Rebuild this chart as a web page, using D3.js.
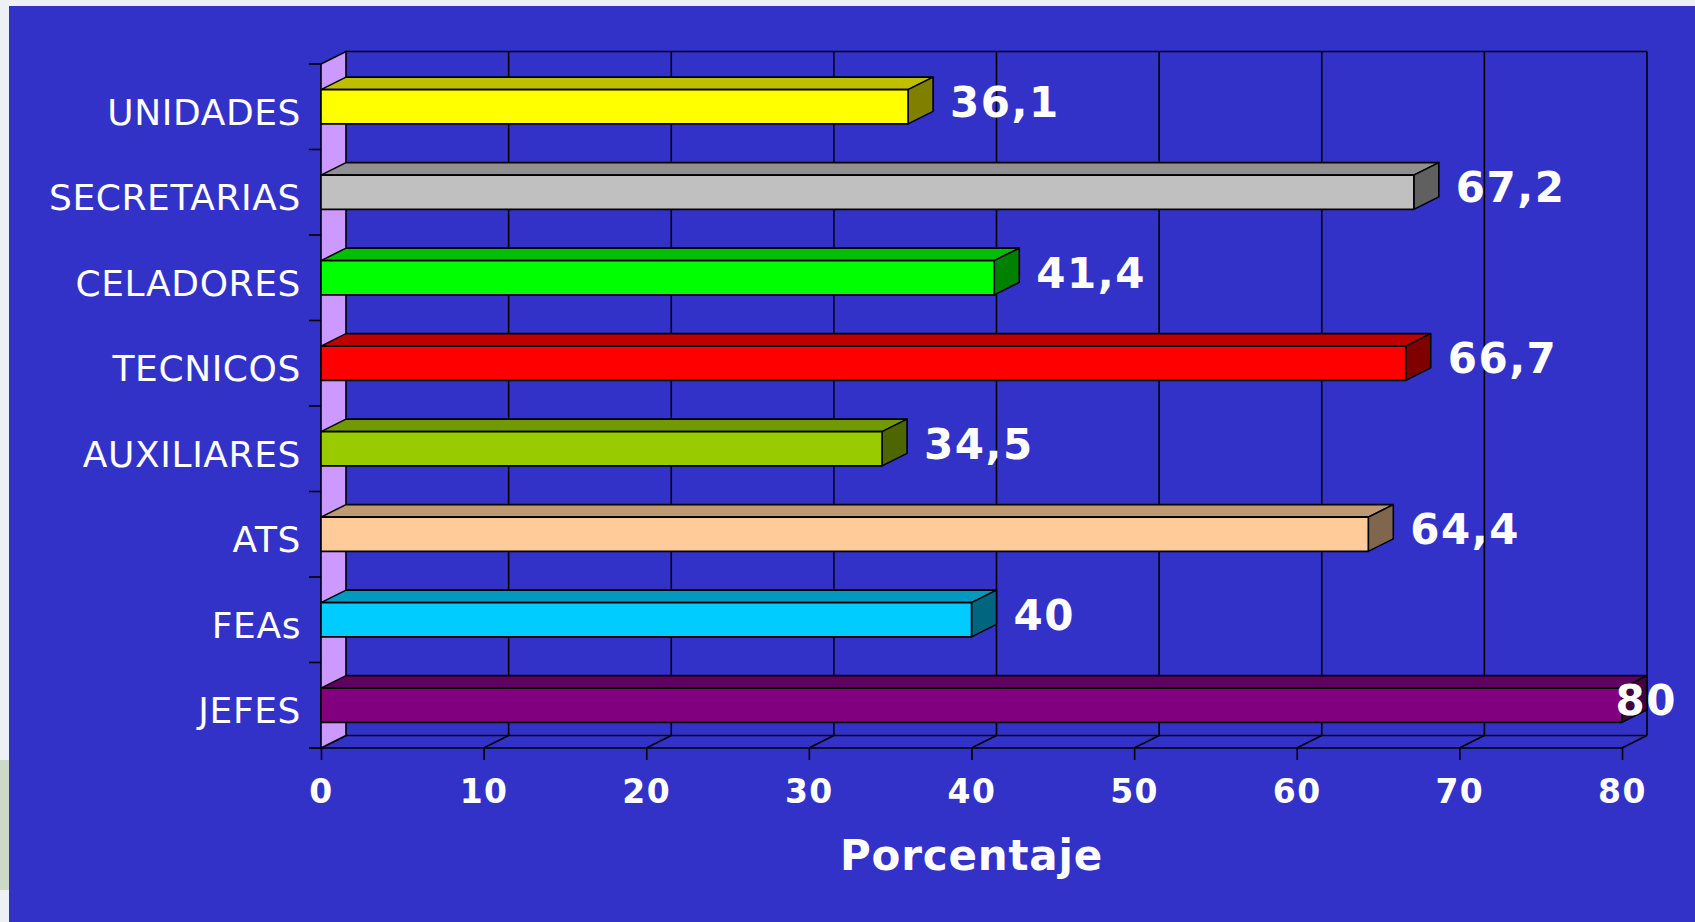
<!DOCTYPE html>
<html>
<head>
<meta charset="utf-8">
<script src="https://cdn.jsdelivr.net/npm/d3@7"></script>
<style>
  html, body { margin: 0; padding: 0; background: #eef0f6; }
  svg { display: block; }
</style>
</head>
<body>
<svg id="chart" width="1695" height="922"></svg>
<script>
// Chart data
var categories = ["UNIDADES", "SECRETARIAS", "CELADORES", "TECNICOS", "AUXILIARES", "ATS", "FEAs", "JEFES"];
var values = [36.1, 67.2, 41.4, 66.7, 34.5, 64.4, 40, 80];
var xTicks = [0, 10, 20, 30, 40, 50, 60, 70, 80];
var axisTitle = "Porcentaje";

// Bar colours (front face); top and side faces are shaded from these
var barColors = ["#ffff00", "#c0c0c0", "#00ff00", "#ff0000", "#99cc00", "#ffcc99", "#00ccff", "#800080"];

var width = 1695, height = 922;
var depthX = 25, depthY = 12.5;
var frontTop = 64, frontBottom = 748;
var fontFamily = "Verdana, 'DejaVu Sans', sans-serif";

var svg = d3.select("#chart");

//Shade a colour like Excel's 3D faces.
function shade(c, k){
	var col = d3.rgb(c);
	return d3.rgb(col.r * k, col.g * k, col.b * k).formatHex();
}

//Page backdrop and blue panel.
svg.append("rect")
	.attr("x", 0).attr("y", 0)
	.attr("width", width).attr("height", height)
	.attr("fill", "#eef0f6");
svg.append("rect")
	.attr("x", 0).attr("y", 760)
	.attr("width", 9).attr("height", 130)
	.attr("fill", "#8fb070")
	.attr("opacity", 0.35);
svg.append("rect")
	.attr("x", 9).attr("y", 6)
	.attr("width", width - 9).attr("height", height - 6)
	.attr("fill", "#3232c9");

var x = d3.scaleLinear()
	.domain([0, 80])
	.range([321, 1622]);

var y = d3.scaleBand()
	.domain(categories)
	.range([frontTop, frontBottom])
	.paddingInner(0.6)
	.paddingOuter(0.3);

var backLeft = x(0) + depthX,
	backRight = x(80) + depthX,
	backTop = frontTop - depthY,
	backBottom = frontBottom - depthY;

var walls = svg.append("g")
	.attr("stroke", "#000")
	.attr("stroke-width", 1.6)
	.attr("fill", "none");

//Back wall frame and gridlines.
walls.append("line")
	.attr("x1", backLeft).attr("y1", backTop)
	.attr("x2", backRight).attr("y2", backTop);
walls.append("line")
	.attr("x1", backLeft).attr("y1", backBottom)
	.attr("x2", backRight).attr("y2", backBottom);
walls.selectAll(".grid")
	.data(xTicks.slice(1))
	.enter()
	.append("line")
	.attr("class", "grid")
	.attr("x1", function(d){ return x(d) + depthX; })
	.attr("x2", function(d){ return x(d) + depthX; })
	.attr("y1", backTop)
	.attr("y2", backBottom);

//Floor diagonals.
walls.selectAll(".floor")
	.data(xTicks)
	.enter()
	.append("line")
	.attr("class", "floor")
	.attr("x1", function(d){ return x(d); })
	.attr("y1", frontBottom)
	.attr("x2", function(d){ return x(d) + depthX; })
	.attr("y2", backBottom);

//Left wall.
walls.append("polygon")
	.attr("points", [[x(0), frontTop], [backLeft, backTop], [backLeft, backBottom], [x(0), frontBottom]]
		.map(function(p){ return p.join(","); }).join(" "))
	.attr("fill", "#cc99ff");

//Category boundary ticks on the left.
walls.selectAll(".ytick")
	.data(d3.range(categories.length + 1))
	.enter()
	.append("line")
	.attr("class", "ytick")
	.attr("x1", x(0) - 12)
	.attr("x2", x(0))
	.attr("y1", function(i){ return frontTop + i * y.step(); })
	.attr("y2", function(i){ return frontTop + i * y.step(); });

//Bottom axis.
var xAxis = svg.append("g")
	.attr("transform", "translate(0," + frontBottom + ")")
	.call(d3.axisBottom(x)
		.tickValues(xTicks)
		.tickSize(12)
		.tickSizeOuter(0)
		.tickPadding(20));
xAxis.select(".domain")
	.attr("stroke", "#000")
	.attr("stroke-width", 1.6)
	.attr("d", "M" + (x(0) - 12) + ",0H" + x(80));
xAxis.selectAll(".tick line")
	.attr("stroke", "#000")
	.attr("stroke-width", 1.6);
xAxis.selectAll(".tick text")
	.attr("fill", "#fff")
	.style("font-family", fontFamily)
	.style("font-weight", "bold")
	.style("font-size", "33px")
	.style("letter-spacing", "1.5px");

//Category labels.
var yAxis = svg.append("g")
	.attr("transform", "translate(" + x(0) + ",0)")
	.call(d3.axisLeft(y).tickSize(0).tickPadding(20));
yAxis.select(".domain").remove();
yAxis.selectAll(".tick text")
	.attr("fill", "#fff")
	.attr("dy", "0.5em")
	.style("font-family", fontFamily)
	.style("font-size", "36px")
	.style("letter-spacing", "0.6px");

//3D bars.
var bars = svg.selectAll(".bar")
	.data(categories)
	.enter()
	.append("g")
	.attr("class", "bar")
	.attr("stroke", "#000")
	.attr("stroke-width", 1.6)
	.attr("stroke-linejoin", "round");

function pts(list){
	return list.map(function(p){ return p.join(","); }).join(" ");
}

bars.append("polygon")
	.attr("points", function(d, i){
		var x0 = x(0), x1 = x(values[i]), y0 = y(d);
		return pts([[x0, y0], [x0 + depthX, y0 - depthY], [x1 + depthX, y0 - depthY], [x1, y0]]);
	})
	.attr("fill", function(d, i){ return shade(barColors[i], 0.75); });

bars.append("polygon")
	.attr("points", function(d, i){
		var x1 = x(values[i]), y0 = y(d), y1 = y(d) + y.bandwidth();
		return pts([[x1, y0], [x1 + depthX, y0 - depthY], [x1 + depthX, y1 - depthY], [x1, y1]]);
	})
	.attr("fill", function(d, i){ return shade(barColors[i], 0.5); });

bars.append("rect")
	.attr("x", x(0))
	.attr("y", function(d){ return y(d); })
	.attr("width", function(d, i){ return x(values[i]) - x(0); })
	.attr("height", y.bandwidth())
	.attr("fill", function(d, i){ return barColors[i]; });

//Value labels.
svg.selectAll(".value")
	.data(categories)
	.enter()
	.append("text")
	.attr("class", "value")
	.attr("x", function(d, i){ return x(values[i]) + depthX + 17; })
	.attr("y", function(d){ return y(d) + y.bandwidth() / 2 + 10; })
	.attr("fill", "#fff")
	.style("font-family", fontFamily)
	.style("font-weight", "bold")
	.style("font-size", "42px")
	.style("letter-spacing", "1.5px")
	.text(function(d, i){ return String(values[i]).replace(".", ","); })
	.each(function(){
		//Pull labels that run past the panel back inside it.
		var w = this.getComputedTextLength();
		var lx = +d3.select(this).attr("x");
		if(lx + w > width - 18){
			d3.select(this).attr("x", width - 18 - w);
		}
	});

//Axis title.
svg.append("text")
	.attr("x", (x(0) + x(80)) / 2)
	.attr("y", 870)
	.attr("text-anchor", "middle")
	.attr("fill", "#fff")
	.style("font-family", fontFamily)
	.style("font-weight", "bold")
	.style("font-size", "42px")
	.style("letter-spacing", "0.8px")
	.text(axisTitle);
</script>
</body>
</html>
